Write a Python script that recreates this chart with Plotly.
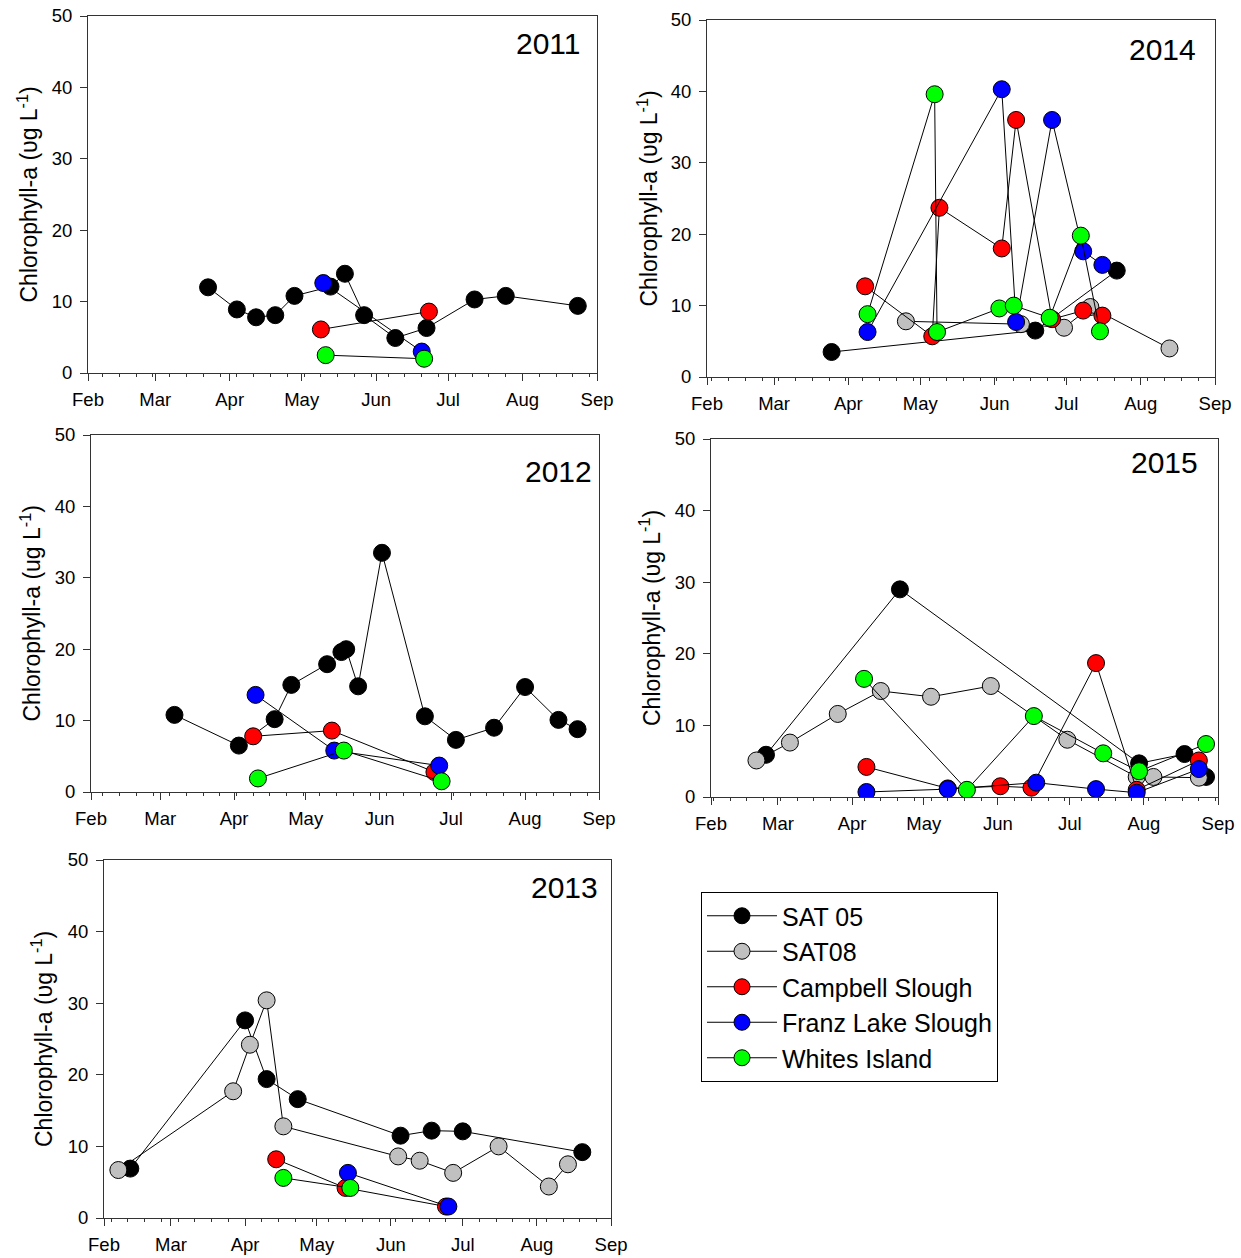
import plotly.graph_objects as go

W, H = 1241, 1258

sites = ["SAT 05", "SAT08", "Campbell Slough", "Franz Lake Slough", "Whites Island"]
colors = ["#000000", "#c0c0c0", "#ff0000", "#0000ff", "#00ff00"]
month_labels = ["Feb", "Mar", "Apr", "May", "Jun", "Jul", "Aug", "Sep"]
y_ticks = [0, 10, 20, 30, 40, 50]

# ---------------- 2011 ----------------
sat05_2011_d = ["2011-03-23", "2011-04-04", "2011-04-12", "2011-04-20", "2011-04-28", "2011-05-13",
                "2011-05-19", "2011-05-27", "2011-06-09", "2011-06-22", "2011-07-12", "2011-07-25", "2011-08-24"]
sat05_2011_v = [12.0, 8.9, 7.8, 8.1, 10.8, 12.1, 13.9, 8.1, 4.9, 6.3, 10.3, 10.8, 9.4]
sat08_2011_d = []
sat08_2011_v = []
camp_2011_d = ["2011-05-09", "2011-06-23"]
camp_2011_v = [6.1, 8.6]
franz_2011_d = ["2011-05-10", "2011-06-20"]
franz_2011_v = [12.6, 3.0]
white_2011_d = ["2011-05-11", "2011-06-21"]
white_2011_v = [2.5, 2.0]

# ---------------- 2012 ----------------
sat05_2012_d = ["2012-03-07", "2012-04-03", "2012-04-18", "2012-04-25", "2012-05-10", "2012-05-16",
                "2012-05-18", "2012-05-23", "2012-06-02", "2012-06-20", "2012-07-03", "2012-07-19",
                "2012-08-01", "2012-08-15", "2012-08-23"]
sat05_2012_v = [10.8, 6.5, 10.2, 15.0, 17.9, 19.6, 20.0, 14.8, 33.5, 10.6, 7.3, 9.0, 14.7, 10.1, 8.8]
sat08_2012_d = []
sat08_2012_v = []
camp_2012_d = ["2012-04-09", "2012-05-12", "2012-06-24"]
camp_2012_v = [7.8, 8.6, 2.8]
franz_2012_d = ["2012-04-10", "2012-05-13", "2012-06-26"]
franz_2012_v = [13.6, 5.8, 3.7]
white_2012_d = ["2012-04-11", "2012-05-17", "2012-06-27"]
white_2012_v = [1.9, 5.8, 1.5]

# ---------------- 2013 ----------------
sat05_2013_d = ["2013-02-12", "2013-04-01", "2013-04-10", "2013-04-23", "2013-06-05", "2013-06-18",
                "2013-07-01", "2013-08-20"]
sat05_2013_v = [6.9, 27.6, 19.4, 16.6, 11.5, 12.2, 12.1, 9.2]
sat08_2013_d = ["2013-02-07", "2013-03-27", "2013-04-03", "2013-04-10", "2013-04-17", "2013-06-04",
                "2013-06-13", "2013-06-27", "2013-07-16", "2013-08-06", "2013-08-14"]
sat08_2013_v = [6.7, 17.7, 24.2, 30.4, 12.8, 8.6, 8.0, 6.3, 10.0, 4.4, 7.5]
camp_2013_d = ["2013-04-14", "2013-05-13", "2013-06-24"]
camp_2013_v = [8.2, 4.2, 1.6]
franz_2013_d = ["2013-05-14", "2013-06-25"]
franz_2013_v = [6.3, 1.6]
white_2013_d = ["2013-04-17", "2013-05-15"]
white_2013_v = [5.6, 4.2]

# ---------------- 2014 ----------------
sat05_2014_d = ["2014-03-25", "2014-06-18", "2014-07-22"]
sat05_2014_v = [3.5, 6.5, 14.9]
sat08_2014_d = ["2014-04-25", "2014-06-12", "2014-06-30", "2014-07-11", "2014-08-13"]
sat08_2014_v = [7.8, 7.4, 6.9, 9.8, 4.0]
camp_2014_d = ["2014-04-08", "2014-05-06", "2014-05-09", "2014-06-04", "2014-06-10", "2014-06-25",
               "2014-07-08", "2014-07-16"]
camp_2014_v = [12.7, 5.7, 23.7, 18.0, 36.0, 8.1, 9.3, 8.6]
franz_2014_d = ["2014-04-09", "2014-06-04", "2014-06-10", "2014-06-25", "2014-07-08", "2014-07-16"]
franz_2014_v = [6.3, 40.3, 7.7, 36.0, 17.6, 15.7]
white_2014_d = ["2014-04-09", "2014-05-07", "2014-05-08", "2014-06-03", "2014-06-09", "2014-06-24",
                "2014-07-07", "2014-07-15"]
white_2014_v = [8.8, 39.6, 6.3, 9.6, 10.0, 8.3, 19.8, 6.4]

# ---------------- 2015 ----------------
sat05_2015_d = ["2015-02-24", "2015-04-21", "2015-07-30", "2015-08-18", "2015-08-27"]
sat05_2015_v = [5.9, 29.0, 4.7, 6.0, 2.8]
sat08_2015_d = ["2015-02-20", "2015-03-06", "2015-03-26", "2015-04-13", "2015-05-04", "2015-05-29",
                "2015-06-30", "2015-07-29", "2015-08-05", "2015-08-24"]
sat08_2015_v = [5.1, 7.6, 11.6, 14.8, 14.0, 15.5, 8.0, 2.8, 2.8, 2.7]
camp_2015_d = ["2015-04-07", "2015-05-11", "2015-06-02", "2015-06-15", "2015-07-12", "2015-07-29", "2015-08-24"]
camp_2015_v = [4.2, 1.2, 1.5, 1.3, 18.7, 1.0, 5.1]
franz_2015_d = ["2015-04-07", "2015-05-11", "2015-06-17", "2015-07-12", "2015-07-29", "2015-08-24"]
franz_2015_v = [0.7, 1.1, 2.0, 1.1, 0.6, 3.9]
white_2015_d = ["2015-04-06", "2015-05-19", "2015-06-16", "2015-07-15", "2015-07-30", "2015-08-27"]
white_2015_v = [16.5, 1.0, 11.3, 6.1, 3.6, 7.4]

data = {
    2011: [(sat05_2011_d, sat05_2011_v), (sat08_2011_d, sat08_2011_v), (camp_2011_d, camp_2011_v),
           (franz_2011_d, franz_2011_v), (white_2011_d, white_2011_v)],
    2012: [(sat05_2012_d, sat05_2012_v), (sat08_2012_d, sat08_2012_v), (camp_2012_d, camp_2012_v),
           (franz_2012_d, franz_2012_v), (white_2012_d, white_2012_v)],
    2013: [(sat05_2013_d, sat05_2013_v), (sat08_2013_d, sat08_2013_v), (camp_2013_d, camp_2013_v),
           (franz_2013_d, franz_2013_v), (white_2013_d, white_2013_v)],
    2014: [(sat05_2014_d, sat05_2014_v), (sat08_2014_d, sat08_2014_v), (camp_2014_d, camp_2014_v),
           (franz_2014_d, franz_2014_v), (white_2014_d, white_2014_v)],
    2015: [(sat05_2015_d, sat05_2015_v), (sat08_2015_d, sat08_2015_v), (camp_2015_d, camp_2015_v),
           (franz_2015_d, franz_2015_v), (white_2015_d, white_2015_v)],
}

# panel boxes in pixels: left, right, top, bottom
boxes = {
    2011: (88, 597, 16, 373),
    2014: (707, 1215, 20, 377),
    2012: (91, 599, 435, 792),
    2015: (711, 1218, 439, 797),
    2013: (104, 611, 860, 1218),
}
# y title centre x (px), year label right x and centre y (px)
ytitle_x = {2011: 27, 2014: 647, 2012: 30, 2015: 650, 2013: 42}
year_pos = {2011: (583, 44), 2014: (1198, 49), 2012: (594, 471), 2015: (1200, 462), 2013: (600, 887)}
unit = {2011: "υg", 2012: "ug", 2013: "υg", 2014: "υg", 2015: "υg"}

FONT = "Liberation Sans, Arial, sans-serif"
AXCOL = "#333333"

def px(x):
    return x / W

def py(y):
    return 1 - y / H

fig = go.Figure()
annotations = []
order = [2011, 2014, 2012, 2015, 2013]
first_monday = {2011: "2011-02-07", 2012: "2012-02-06", 2013: "2013-02-04", 2014: "2014-02-03", 2015: "2015-02-02"}

for i, yr in enumerate(order, start=1):
    xa = "x" if i == 1 else f"x{i}"
    ya = "y" if i == 1 else f"y{i}"
    for k, (d, v) in enumerate(data[yr]):
        fig.add_trace(go.Scatter(
            x=d, y=v, mode="lines+markers", name=sites[k],
            xaxis=xa, yaxis=ya,
            line=dict(color="#000000", width=1),
            marker=dict(size=17, color=colors[k], line=dict(color="#000000", width=1)),
            showlegend=(yr == 2015), legendrank=k + 1,
        ))
    l, r, t, b = boxes[yr]
    months = [f"{yr}-{m:02d}-01" for m in range(2, 10)]
    xkey = "xaxis" if i == 1 else f"xaxis{i}"
    ykey = "yaxis" if i == 1 else f"yaxis{i}"
    fig.layout[xkey] = dict(
        domain=[px(l), px(r)], anchor=ya, type="date",
        range=[months[0], months[-1]], automargin=False,
        tickmode="array", tickvals=months, ticktext=month_labels,
        ticks="outside", ticklen=7, tickwidth=1, tickcolor=AXCOL,
        ticklabelstandoff=3,
        minor=dict(ticks="outside", ticklen=3, tickwidth=1, tickcolor=AXCOL,
                   tickmode="linear", tick0=first_monday[yr], dtick=7 * 86400000, showgrid=False),
        showline=True, linecolor=AXCOL, linewidth=1, mirror=True,
        showgrid=False, zeroline=False,
        tickfont=dict(family=FONT, size=18.5, color="#000000"),
    )
    fig.layout[ykey] = dict(
        domain=[py(b), py(t)], anchor=xa, range=[0, 50], automargin=False,
        tickmode="array", tickvals=y_ticks,
        ticks="outside", ticklen=7, tickwidth=1, tickcolor=AXCOL,
        ticklabelstandoff=4,
        showline=True, linecolor=AXCOL, linewidth=1, mirror=True,
        showgrid=False, zeroline=False,
        tickfont=dict(family=FONT, size=18.5, color="#000000"),
    )
    annotations.append(dict(
        text=f"Chlorophyll-a ({unit[yr]} L<sup>-1</sup>)", textangle=-90,
        xref="paper", yref="paper", x=px(ytitle_x[yr]), y=py((t + b) / 2),
        xanchor="center", yanchor="middle", showarrow=False,
        font=dict(family=FONT, size=23, color="#000000"),
    ))
    yx, yy = year_pos[yr]
    annotations.append(dict(
        text=str(yr), xref="paper", yref="paper", x=px(yx), y=py(yy),
        xanchor="right", yanchor="middle", showarrow=False,
        font=dict(family=FONT, size=30, color="#000000"),
    ))

fig.update_layout(
    width=W, height=H, margin=dict(l=0, r=0, t=0, b=0, pad=0, autoexpand=False),
    paper_bgcolor="white", plot_bgcolor="white",
    annotations=annotations,
    legend=dict(
        x=px(701), y=py(892), xanchor="left", yanchor="top",
        bordercolor="#000000", borderwidth=1, bgcolor="white",
        font=dict(family=FONT, size=25, color="#000000"),
        itemwidth=70, tracegroupgap=0,
    ),
)

fig.write_html("out.html", config={"displayModeBar": False},
               post_script="document.body.style.margin='0';")
